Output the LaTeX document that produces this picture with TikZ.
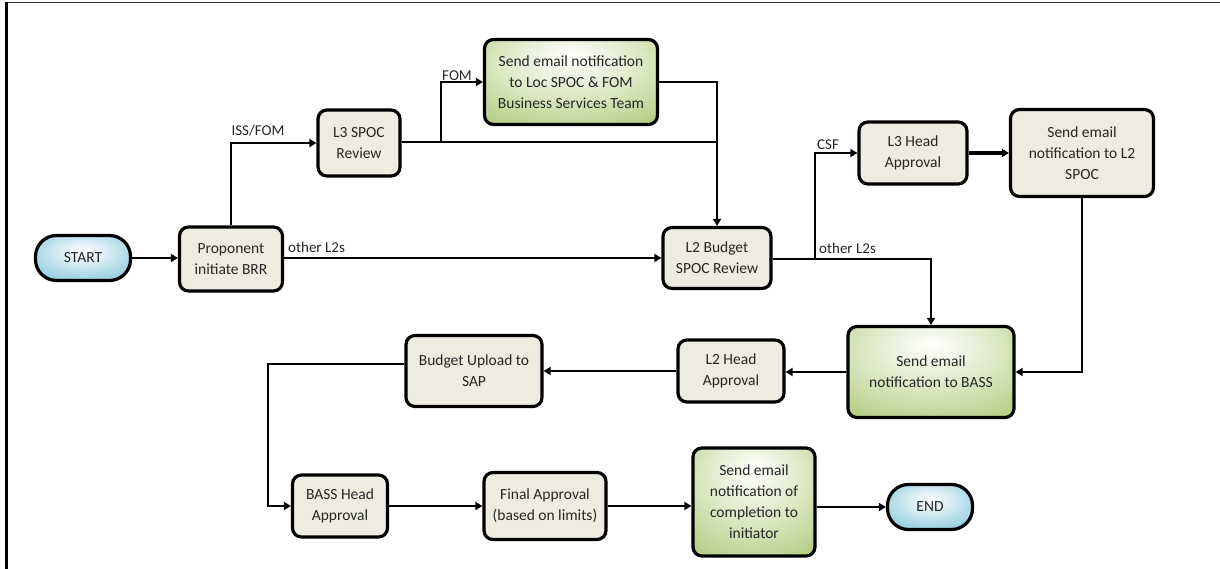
\documentclass[tikz,border=0pt]{standalone}
\usepackage{fontspec}
\setmainfont{Carlito}
\usetikzlibrary{arrows.meta,positioning}
\definecolor{boxfill}{HTML}{EEECE1}
\definecolor{greenedge}{HTML}{9BBB59}
\definecolor{greenmid}{HTML}{DDE9C6}
\definecolor{bluemid}{HTML}{CBE7F0}
\definecolor{blueedge}{HTML}{72BDD4}
\definecolor{textgray}{HTML}{262626}
% light centre placed towards the top, darker towards the rim
\pgfdeclareradialshading{mailshade}{\pgfpoint{0bp}{16bp}}{%
  color(0bp)=(white); color(20bp)=(greenmid); color(52bp)=(greenedge); color(80bp)=(greenedge)}
\pgfdeclareradialshading{termshade}{\pgfpoint{0bp}{8bp}}{%
  color(0bp)=(white); color(16bp)=(bluemid); color(42bp)=(blueedge); color(80bp)=(blueedge)}
\tikzset{
  x=1pt, y=-1pt,
  every node/.style={font=\fontsize{15.5}{21}\selectfont, text=textgray},
  procbox/.style={draw=black, line width=3.2pt, fill=boxfill, rounded corners=9pt,
    align=center, inner sep=0pt},
  mailbox/.style={procbox, fill=none, shading=mailshade},
  termbox/.style={draw=black, line width=3.2pt, rounded corners=21pt, inner sep=0pt,
    shading=termshade, align=center},
  flow/.style={draw=black, line width=2.6pt, -{Triangle[length=7pt,width=8pt]}},
  plain/.style={draw=black, line width=2.6pt},
  lbl/.style={font=\fontsize{15}{17}\selectfont, inner sep=0pt}
}
\begin{document}
\begin{tikzpicture}
\useasboundingbox (0,0) rectangle (1220,569);
% frame
\draw[line width=1.4pt, black!80] (6,2.5) -- (1220,2.5);
\draw[line width=2.6pt, black] (6.5,1.8) -- (6.5,569);

% nodes
\node[termbox, minimum width=95, minimum height=45] (start) at (83,258) {START};
\node[procbox, minimum width=103, minimum height=64] (prop) at (231,259) {Proponent\\initiate BRR};
\node[procbox, minimum width=82, minimum height=66] (l3spoc) at (359,143) {L3 SPOC\\Review};
\node[mailbox, minimum width=173, minimum height=85] (fom) at (571,82)
  {Send email notification\\to Loc SPOC \& FOM\\Business Services Team};
\node[procbox, minimum width=108, minimum height=61] (l2b) at (717,258) {L2 Budget\\SPOC Review};
\node[procbox, minimum width=108, minimum height=62] (l3h) at (913,153) {L3 Head\\Approval};
\node[procbox, minimum width=143, minimum height=87] (l2spoc) at (1082,153)
  {Send email\\notification to L2\\SPOC};
\node[mailbox, minimum width=166, minimum height=91] (bass) at (931,372)
  {Send email\\notification to BASS};
\node[procbox, minimum width=106, minimum height=62] (l2h) at (731,371) {L2 Head\\Approval};
\node[procbox, minimum width=136, minimum height=71] (sap) at (474,371) {Budget Upload to\\SAP};
\node[procbox, minimum width=95, minimum height=62] (bassh) at (340,506) {BASS Head\\Approval};
\node[procbox, minimum width=122, minimum height=67] (final) at (545,506)
  {Final Approval\\(based on limits)};
\node[mailbox, minimum width=122, minimum height=108] (done) at (754,502)
  {Send email\\notification of\\completion to\\initiator};
\node[termbox, minimum width=85, minimum height=45] (end) at (930,507) {END};

% junction points
\coordinate (fomsplit) at (441,142);
\coordinate (merge) at (717,142);
\coordinate (csfsplit) at (815,259);
\coordinate (sapturn) at (268,364);

% connectors
\draw[flow] (start.east) -- (start.east -| prop.west);
\draw[flow] (prop.north) |- (l3spoc.west);
\node[lbl, anchor=south] (isslbl) at (258,136) {ISS/FOM};
\draw[flow] (prop.east |- l2b.east) -- (l2b.west);
\node[lbl, anchor=south west] (oth1lbl) at (288,253) {other L2s};
\draw[plain] (l3spoc.east |- merge) -- (merge);
\draw[flow] (merge) -- (l2b.north);
\draw[flow] (fomsplit) |- (fom.west);
\node[lbl, anchor=south] (fomlbl) at (457,81) {FOM};
\draw[plain] (fom.east) -| (merge);
\draw[flow] (l2b.east |- csfsplit) -| (bass.north);
\node[lbl, anchor=south west] (oth2lbl) at (819,254) {other L2s};
\draw[flow] (csfsplit) |- (l3h.west);
\node[lbl, anchor=south] (csflbl) at (828,150) {CSF};
\draw[flow, line width=3.6pt] (l3h.east) -- (l2spoc.west);
\draw[flow] (l2spoc.south) |- (bass.east);
\draw[flow] (bass.west) -- (bass.west -| l2h.east);
\draw[flow] (l2h.west) -- (l2h.west -| sap.east);
\draw[flow] (sap.west |- sapturn) -- (sapturn) |- (bassh.west);
\draw[flow] (bassh.east) -- (bassh.east -| final.west);
\draw[flow] (final.east) -- (final.east -| done.west);
\draw[flow] (done.east |- end.west) -- (end.west);
\end{tikzpicture}
\end{document}
